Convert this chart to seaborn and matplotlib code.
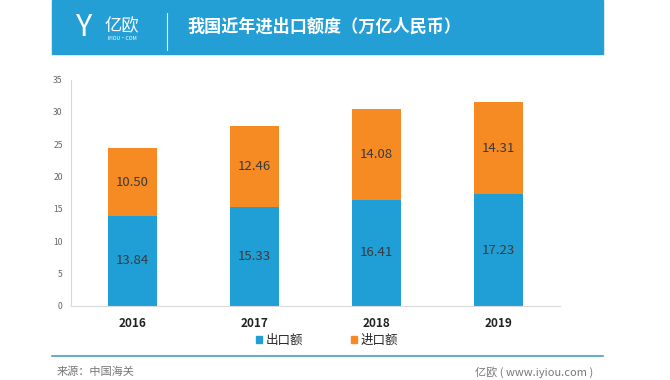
import matplotlib
matplotlib.use("Agg")
import matplotlib.pyplot as plt
from matplotlib.patches import Rectangle
import seaborn as sns
import pandas as pd

years = ["2016", "2017", "2018", "2019"]
export_vals = [13.84, 15.33, 16.41, 17.23]
import_vals = [10.50, 12.46, 14.08, 14.31]
series_names = ["出口额", "进口额"]
title = "我国近年进出口额度（万亿人民币）"
source = "来源：中国海关"
credit = "亿欧 ( www.iyiou.com )"

sns.set_theme(style="white")
plt.rcParams['font.family'] = ['Noto Sans CJK SC', 'DejaVu Sans']

BLUE = "#1f9fd5"
ORANGE = "#f58b22"

fig = plt.figure(figsize=(6.7, 3.8), dpi=100)
ax = fig.add_axes([71/670, 1-305.7/380, (560-71)/670, (305.7-79.5)/380])

df = pd.DataFrame({"year": years, "exp": export_vals, "imp": import_vals})
sns.barplot(data=df, x="year", y="exp", color=BLUE, width=0.4, ax=ax,
            saturation=1, linewidth=0)
sns.barplot(data=df, x="year", y="imp", bottom=df["exp"], color=ORANGE, width=0.4,
            ax=ax, saturation=1, linewidth=0)

for i, (e, m) in enumerate(zip(export_vals, import_vals)):
    ax.text(i, e/2, f"{e:.2f}", ha="center", va="center", fontsize=9.5, color="#3a3a3a")
    ax.text(i, e + m/2, f"{m:.2f}", ha="center", va="center", fontsize=9.5, color="#3a3a3a")

ax.set_ylim(0, 35)
ax.set_yticks(range(0, 36, 5))
ax.set_xlim(-0.5, 3.5)
ax.set_xlabel("")
ax.set_ylabel("")
ax.tick_params(axis="y", labelsize=6.2, colors="#666666", length=0, pad=6)
ax.tick_params(axis="x", labelsize=8.5, length=0, pad=8)
for lab in ax.get_xticklabels():
    lab.set_fontweight("bold")
    lab.set_color("#222222")
for s in ["top", "right"]:
    ax.spines[s].set_visible(False)
for s in ["left", "bottom"]:
    ax.spines[s].set_color("#d9d9d9")
    ax.spines[s].set_linewidth(0.8)

# legend
handles = [Rectangle((0, 0), 1, 1, color=BLUE), Rectangle((0, 0), 1, 1, color=ORANGE)]
fig.legend(handles, series_names, loc="center", bbox_to_anchor=(327/670, 1-340/380),
           ncol=2, frameon=False, fontsize=9, handlelength=0.5, handleheight=0.5,
           columnspacing=3.8, handletextpad=0.3)

# header banner
fig.patches.append(Rectangle((52/670, 1-54/380), (603-52)/670, 54/380,
                             transform=fig.transFigure, color="#239fd6", zorder=0))
fig.text(122/670, 1-26/380, "亿欧", color="white", fontsize=12.5, ha="center", va="center")
fig.text(122/670, 1-39/380, "IYIOU·COM", color="white", fontsize=3.8, ha="center", va="center")
fig.text(84/670, 1-28/380, "Y", color="white", fontsize=22, ha="center", va="center",
         fontweight="light")
fig.lines.append(plt.Line2D([167/670, 167/670], [1-13/380, 1-50/380],
                            transform=fig.transFigure, color="white", lw=0.8))
fig.text(187/670, 1-27/380, title, color="white", fontsize=12.3, fontweight="bold",
         ha="left", va="center")

# footer
fig.lines.append(plt.Line2D([52/670, 603/670], [1-356/380, 1-356/380],
                            transform=fig.transFigure, color="#6aaccc", lw=1.5))
fig.text(57/670, 1-372/380, source, color="#777777", fontsize=8, ha="left", va="center")
fig.text(593/670, 1-372/380, credit, color="#777777", fontsize=8, ha="right", va="center")

fig.savefig("out.png", dpi=100)
